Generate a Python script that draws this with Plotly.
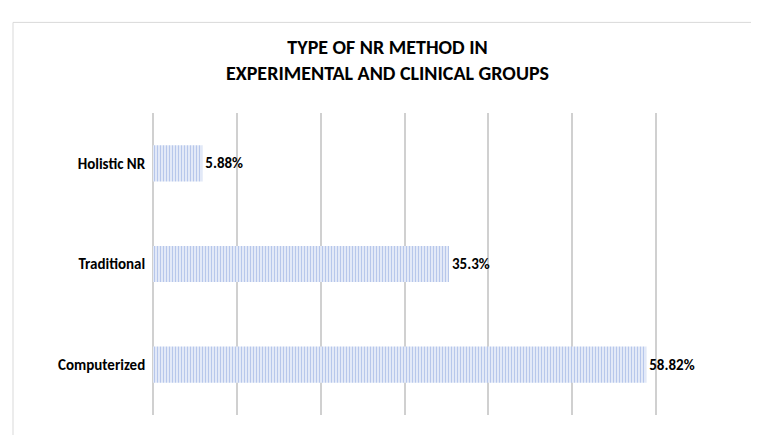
import plotly.graph_objects as go

categories = ["Computerized", "Traditional", "Holistic NR"]
values = [58.82, 35.3, 5.88]
labels = ["58.82%", "35.3%", "5.88%"]

FONT = "Calibri, Carlito, Liberation Sans, sans-serif"

fig = go.Figure()
fig.add_trace(go.Bar(
    y=categories, x=values, orientation="h",
    text=labels, textposition="outside", texttemplate="<b>%{text}</b>",
    textfont=dict(size=15, color="#000000", family=FONT),
    marker=dict(color="rgba(255,255,255,0)", line=dict(width=0),
                pattern=dict(shape="|", fgcolor="#6f90d8", bgcolor="#ffffff", size=3, solidity=0.6)),
    width=0.36, cliponaxis=False,
))
fig.update_layout(
    width=759, height=435,
    paper_bgcolor="white", plot_bgcolor="white",
    margin=dict(l=145, r=27, t=105, b=28, autoexpand=False),
    title=dict(text="<b>TYPE OF NR METHOD IN<br>EXPERIMENTAL AND CLINICAL GROUPS</b>",
               x=0.5, xanchor="center", y=0.895, yanchor="middle",
               font=dict(size=20, color="#000000", family=FONT)),
    showlegend=False,
    xaxis=dict(range=[0, 70], dtick=10, showticklabels=False, showgrid=True,
               gridcolor="#d0d0d0", gridwidth=1.5, zeroline=True, zerolinecolor="#d0d0d0"),
    yaxis=dict(tickfont=dict(size=15, color="#000000", family=FONT),
               tickprefix="<b>", ticksuffix="</b>  ", showgrid=False, automargin=False),
    shapes=[dict(type="rect", xref="paper", yref="paper", x0=-0.2385, x1=1.034, y0=-0.068, y1=1.30,
                 line=dict(color="#d9d9d9", width=1))],
)
fig.write_html("out.html")
